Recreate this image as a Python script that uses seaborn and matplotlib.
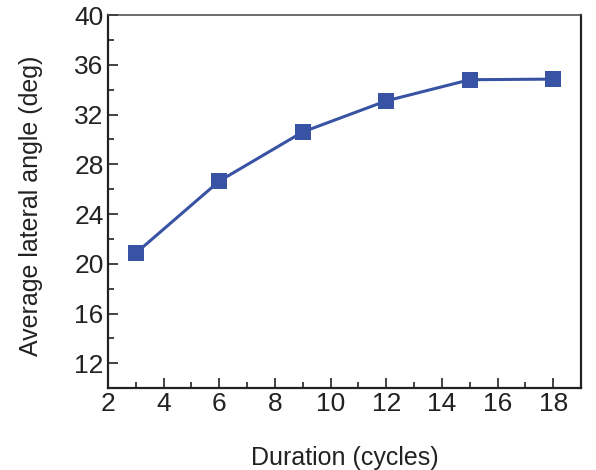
import numpy as np
import pandas as pd
import matplotlib
matplotlib.use("Agg")
import matplotlib.pyplot as plt
import seaborn as sns
from matplotlib.ticker import MultipleLocator

# Data
duration = [3, 6, 9, 12, 15, 18]
angle = [20.85, 26.65, 30.6, 33.1, 34.8, 34.85]

df = pd.DataFrame({"duration": duration, "angle": angle})

sns.set_theme(style="ticks")
plt.rcParams["font.family"] = ["Liberation Sans", "DejaVu Sans"]

fig = plt.figure(figsize=(5.96, 4.70), dpi=100)
ax = fig.add_axes([0.181, 0.174, 0.794, 0.794])

color = "#3953a4"
sns.lineplot(data=df, x="duration", y="angle", ax=ax, color=color,
             linewidth=2.2, marker="s", markersize=12, markeredgewidth=0)

ax.set_xlim(2, 19)
ax.set_ylim(10, 40)
ax.xaxis.set_major_locator(MultipleLocator(2))
ax.xaxis.set_minor_locator(MultipleLocator(1))
ax.yaxis.set_major_locator(MultipleLocator(4))
ax.yaxis.set_minor_locator(MultipleLocator(2))
ax.set_yticks(np.arange(12, 41, 4))

for side in ["left", "right", "bottom"]:
    ax.spines[side].set_visible(True)
    ax.spines[side].set_linewidth(1.6)
    ax.spines[side].set_color("#222222")
ax.spines["top"].set_linewidth(1.1)
ax.spines["top"].set_color("#444444")

ax.tick_params(which="both", direction="in", top=False, right=False,
               color="#222222", width=1.2)
ax.tick_params(which="major", length=7, labelsize=19, labelcolor="#222222")
ax.tick_params(which="minor", length=4)
ax.tick_params(axis="y", which="major", pad=3)
ax.tick_params(axis="x", which="major", pad=3)

ax.set_xlabel("Duration (cycles)", fontsize=18, color="#222222")
ax.set_ylabel("Average lateral angle (deg)", fontsize=18, color="#222222")
ax.xaxis.set_label_coords(0.5, -0.155)
ax.yaxis.set_label_coords(-0.138, 0.49)

fig.savefig("out.png", dpi=100)
